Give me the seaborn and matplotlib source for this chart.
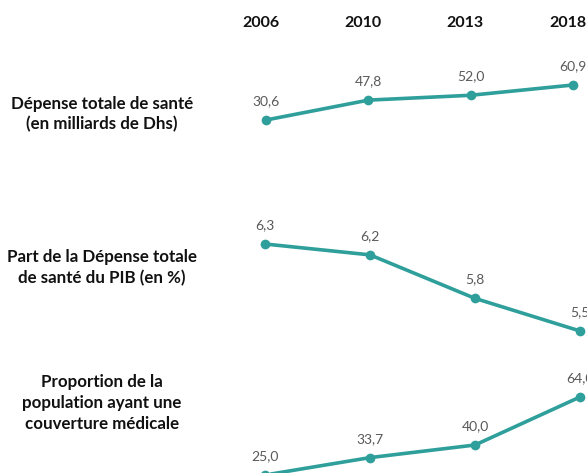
import matplotlib
matplotlib.use("Agg")
import matplotlib.pyplot as plt
import seaborn as sns

# données
annees = ["2006", "2010", "2013", "2018"]
depense_totale = [30.6, 47.8, 52.0, 60.9]
part_pib = [6.3, 6.2, 5.8, 5.5]
couverture = [25.0, 33.7, 40.0, 64.0]
libelles = [
    "Dépense totale de santé\n(en milliards de Dhs)",
    "Part de la Dépense totale\nde santé du PIB (en %)",
    "Proportion de la\npopulation ayant une\ncouverture médicale",
]

sns.set_theme(style="white")
plt.rcParams["font.family"] = ["Lato", "DejaVu Sans"]

W, H = 587, 473
couleur = "#2f9f9b"
gris = "#595959"

fig = plt.figure(figsize=(W / 100, H / 100), dpi=100)


def panneau(x0, x3, y_haut, y_bas):
    """ crée un axe placé en pixels (y mesuré depuis le haut) """
    return fig.add_axes([x0 / W, 1 - y_bas / H, (x3 - x0) / W, (y_bas - y_haut) / H])


def tracer(ax, valeurs):
    x = list(range(len(valeurs)))
    sns.lineplot(x=x, y=valeurs, ax=ax, color=couleur, linewidth=2.6,
                 marker="o", markersize=7, markeredgewidth=0)
    for ligne in ax.lines:
        ligne.set_clip_on(False)
    ax.set_xlim(0, len(valeurs) - 1)
    ax.set_ylim(min(valeurs), max(valeurs))
    for xi, v in zip(x, valeurs):
        ax.annotate(f"{v:.1f}".replace(".", ","), xy=(xi, v), xytext=(0, 13.5),
                    textcoords="offset points", ha="center", va="center",
                    fontsize=10, color=gris, annotation_clip=False)
    ax.axis("off")


ax1 = panneau(266, 573, 85, 120)
tracer(ax1, depense_totale)
ax2 = panneau(265, 580, 244, 331)
tracer(ax2, part_pib)
ax3 = panneau(265, 580, 397, 475)
tracer(ax3, couverture)

# années en tête
for i, a in enumerate(annees):
    ax1.annotate(a, xy=(i, 1), xycoords=("data", "axes fraction"), xytext=(-4, 44.5),
                 textcoords="offset points", ha="center", va="center",
                 fontsize=11.5, fontweight="bold", color="#111111", annotation_clip=False)

# libellés des lignes
for texte, yc in zip(libelles, [114, 267.5, 403]):
    fig.text(102 / W, 1 - yc / H, texte, ha="center", va="center", multialignment="center",
             fontsize=12.2, fontweight="bold", color="#111111", linespacing=1.35)

fig.savefig("out.png", dpi=100)
